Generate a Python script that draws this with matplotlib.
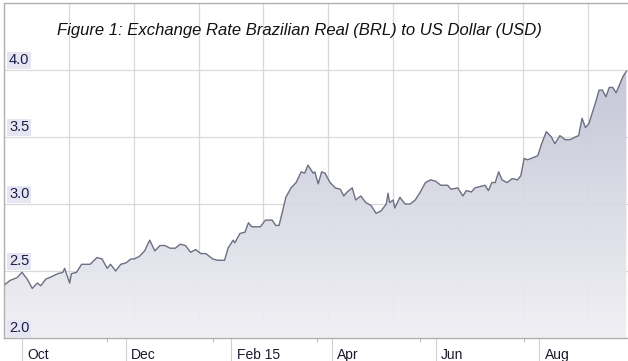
import datetime as dt
import numpy as np
import matplotlib.pyplot as plt
import matplotlib.dates as mdates
from matplotlib.colors import LinearSegmentedColormap
from matplotlib.transforms import blended_transform_factory

plt.rcParams['font.family'] = ['Liberation Sans', 'DejaVu Sans']

# Data: USD/BRL, days counted from 2014-09-21
start = dt.date(2014, 9, 21)
days = [0, 3, 7, 10, 13, 16, 19, 21, 24, 26, 31, 34, 35, 38, 39, 42, 45, 50, 54, 57,
        60, 62, 65, 68, 71, 74, 76, 79, 82, 85, 88, 91, 94, 97, 100, 103, 106, 109, 112, 115,
        118, 121, 122, 125, 129, 131, 134, 135, 138, 141, 143, 145, 150, 153, 157, 159, 161,
        165, 168, 171, 174, 176, 178, 181, 182, 184, 186, 188, 191, 194, 197, 199, 201, 204,
        206, 209, 212, 215, 218, 221, 224, 225, 226, 228, 229, 232, 235, 238, 241, 244, 247,
        250, 253, 256, 260, 262, 266, 269, 271, 274, 276, 279, 282, 284, 286, 288, 290, 292,
        295, 298, 301, 303, 305, 307, 313, 315, 318, 321, 323, 326, 329, 332, 335, 337, 339,
        341, 343, 345, 347, 349, 351, 353, 355, 357, 359, 361, 363, 365]
rate = [2.40, 2.43, 2.45, 2.49, 2.44, 2.37, 2.41, 2.39, 2.44, 2.45, 2.48, 2.49, 2.52, 2.41,
        2.48, 2.49, 2.55, 2.55, 2.60, 2.59, 2.52, 2.55, 2.50, 2.55, 2.56, 2.59, 2.59, 2.61,
        2.65, 2.73, 2.65, 2.69, 2.69, 2.67, 2.67, 2.70, 2.69, 2.64, 2.66, 2.63, 2.63, 2.60,
        2.59, 2.58, 2.58, 2.67, 2.73, 2.71, 2.78, 2.79, 2.86, 2.83, 2.83, 2.88, 2.88, 2.84,
        2.84, 3.05, 3.12, 3.16, 3.24, 3.23, 3.29, 3.23, 3.24, 3.15, 3.24, 3.23, 3.16, 3.12,
        3.11, 3.06, 3.09, 3.12, 3.03, 3.06, 3.01, 2.99, 2.93, 2.95, 3.00, 3.08, 3.01, 3.03,
        2.97, 3.05, 3.00, 3.00, 3.03, 3.09, 3.16, 3.18, 3.17, 3.14, 3.14, 3.11, 3.12, 3.06,
        3.10, 3.09, 3.12, 3.13, 3.14, 3.10, 3.16, 3.16, 3.24, 3.18, 3.16, 3.19, 3.18, 3.21,
        3.34, 3.33, 3.36, 3.44, 3.54, 3.50, 3.45, 3.51, 3.48, 3.48, 3.50, 3.51, 3.64, 3.57,
        3.60, 3.68, 3.76, 3.85, 3.85, 3.80, 3.87, 3.87, 3.83, 3.89, 3.95, 3.99]

major_dates = [dt.date(2014, 10, 1), dt.date(2014, 12, 1), dt.date(2015, 2, 1),
               dt.date(2015, 4, 1), dt.date(2015, 6, 1), dt.date(2015, 8, 1)]
major_labels = ['Oct', 'Dec', 'Feb 15', 'Apr', 'Jun', 'Aug']
minor_dates = [dt.date(2014, 11, 20), dt.date(2015, 1, 21), dt.date(2015, 3, 23),
               dt.date(2015, 5, 23), dt.date(2015, 7, 23)]
y_ticks = [2.0, 2.5, 3.0, 3.5, 4.0]

dates = [start + dt.timedelta(days=d) for d in days]
x = mdates.date2num(dates)

fig = plt.figure(figsize=(6.28, 3.61), dpi=100)
ax = fig.add_axes([4 / 628, 23 / 361, 1 - 4 / 628, 335 / 361])

x0 = mdates.date2num(start) - 0.6
x1 = mdates.date2num(start) + 366
ax.set_xlim(x0, x1)
ax.set_ylim(2.0, 4.5)

# grid
for v in y_ticks:
    ax.axhline(v, color='#d9d9d9', lw=0.9, zorder=0)
for gx in np.arange(x0, x1, 38.1):
    ax.axvline(gx, color='#d9d9d9', lw=0.9, zorder=0)

# gradient fill under the line
poly = ax.fill_between(x, rate, 2.0, color='none', lw=0)
grad = np.linspace(0, 1, 256).reshape(-1, 1)
cmap = LinearSegmentedColormap.from_list('fill', ['#f0f0f5', '#c3c4d5'])
img = ax.imshow(grad, extent=[x0, x1, 2.0, 4.0], origin='lower', aspect='auto',
                cmap=cmap, zorder=1, alpha=0.95)
img.set_clip_path(poly.get_paths()[0], transform=ax.transData)
ax.plot(x, rate, color='#6d6f82', lw=1.0, zorder=3)

# spines
ax.spines['right'].set_visible(False)
for s in ['left', 'top', 'bottom']:
    ax.spines[s].set_color('#b0b0b0')
    ax.spines[s].set_linewidth(1.0)

ax.set_yticks([])
ax.set_xticks(mdates.date2num(major_dates))
ax.set_xticklabels([])
ax.tick_params(axis='x', which='major', length=22, color='#d0d0d0', width=0.8)
ax.set_xticks(mdates.date2num(minor_dates), minor=True)
ax.tick_params(axis='x', which='minor', length=3, color='#c0c0c0', width=0.8)

# x labels to the right of tick lines
tb = blended_transform_factory(ax.transData, ax.transAxes)
for d, lab in zip(major_dates, major_labels):
    ax.text(mdates.date2num(d) + 3, -0.03, lab, transform=tb, ha='left', va='top',
            fontsize=10, color='#1a1a2e')

# y labels inside the plot
ty = blended_transform_factory(ax.transAxes, ax.transData)
for v in y_ticks:
    ax.text(0.008, v + 0.02, f'{v:.1f}', transform=ty, ha='left', va='bottom',
            fontsize=10.5, color='#1c1c4a', zorder=5,
            bbox=dict(boxstyle='square,pad=0.12', fc='#e6e6f2', ec='none'))

fig.text(299 / 628, 1 - 30 / 361, 'Figure 1: Exchange Rate Brazilian Real (BRL) to US Dollar (USD)',
         ha='center', va='center', fontsize=12, style='italic', color='#111111')

fig.savefig('out.png', dpi=100)
